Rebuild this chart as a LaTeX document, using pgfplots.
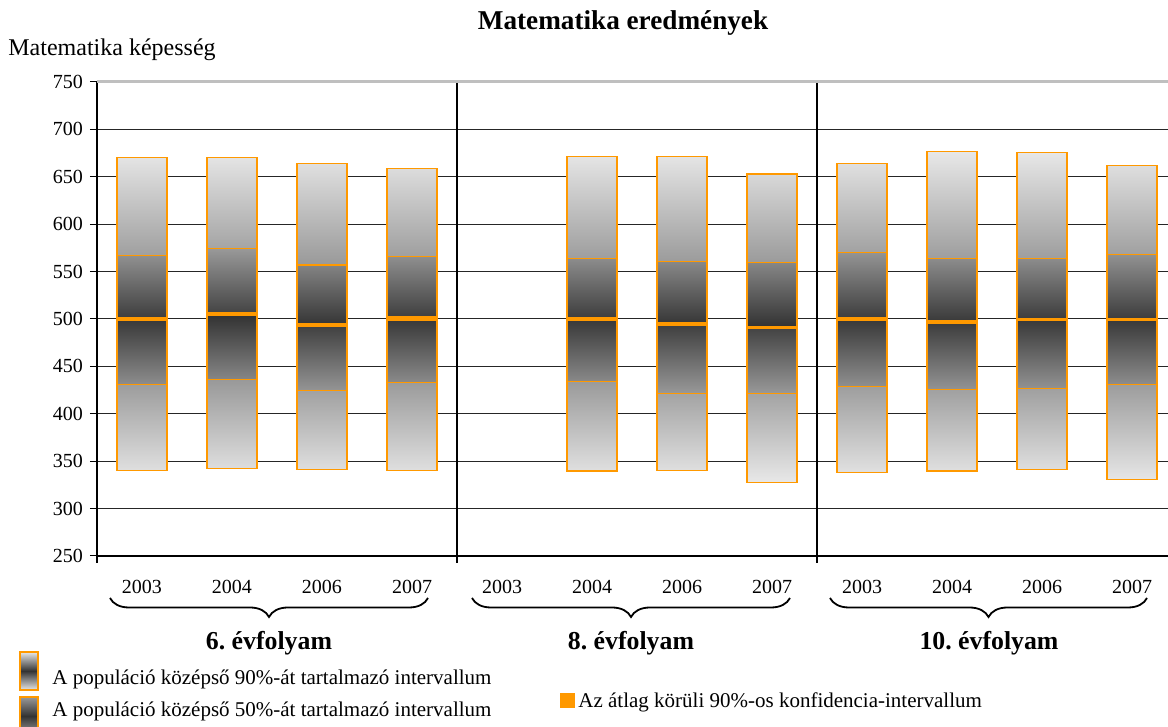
\documentclass[border=0pt]{standalone}
\usepackage{fontspec}
\setmainfont{Liberation Serif}
\usepackage{pgfplots}
\usepackage{pgfplotstable}
\pgfplotsset{compat=1.18}
\usetikzlibrary{decorations.pathreplacing}

\definecolor{boxorange}{HTML}{FF9900}
\definecolor{lightg}{gray}{0.91}
\definecolor{midg}{gray}{0.6}
\definecolor{outmid}{gray}{0.68}
\definecolor{inmid}{gray}{0.48}
\definecolor{darkg}{gray}{0.2}

% percentiles: 5th, 25th, CI low, CI high, 75th, 95th
\pgfplotstableread{
x   p5     lq     cl     ch     uq     p95
0   340    430.5  498.8  501.5  567    670.5
1   342    435.8  503.8  506.5  574.4  670.5
2   341    424.6  492.2  495.5  557    664
3   340    433    498.3  502    566    659
5   339.6  434.4  498.8  501.3  563.5  671
6   340    421    493.5  496    561    671
7   327.7  421    490    492.5  560    653
8   338    428.4  498.8  501.2  570    664
9   339.6  425.6  495.7  498    563.5  677
10  341    426.7  498.3  500.5  563.5  676
11  330.5  430.5  498.5  500.7  568.4  662
}\boxdata

\begin{document}
\frenchspacing
\begin{tikzpicture}
\begin{axis}[
    name=main, at={(0,0)}, anchor=south west,
    width=535.5pt, height=237pt, scale only axis,
    xmin=-0.5, xmax=11.4, ymin=250, ymax=750,
    ybar stacked, bar width=25pt,
    axis x line*=bottom, axis y line*=left,
    axis line style={black, line width=0.6pt},
    tick align=outside, major tick length=3.5pt,
    ytick={250,300,...,700},
    extra y ticks={750},
    extra y tick style={grid style={black!25, line width=1.5pt}},
    ymajorgrids, grid style={black!85, line width=0.5pt},
    y tick style={black, line width=0.5pt},
    xtick={0,...,11},
    xticklabels={2003,2004,2006,2007,2003,2004,2006,2007,2003,2004,2006,2007},
    x tick style={draw=none},
    xticklabel style={yshift=-5pt},
    extra x ticks={-0.5,3.5,7.5},
    extra x tick labels={},
    extra x tick style={xmajorgrids=true, grid style={black, line width=0.6pt},
        x tick style={draw=black, line width=0.6pt}},
    ticklabel style={font=\rmfamily\fontsize{10}{12}\selectfont},
    /pgf/number format/assume math mode=true,
]
\addplot[draw=none, fill=none] table[x=x, y=p5]{\boxdata};
\addplot[draw=boxorange, line width=0.6pt, bottom color=lightg, middle color=outmid, top color=midg]
    table[x=x, y expr=\thisrow{lq}-\thisrow{p5}]{\boxdata};
\addplot[draw=boxorange, line width=0.6pt, bottom color=midg, middle color=inmid, top color=darkg]
    table[x=x, y expr=\thisrow{cl}-\thisrow{lq}]{\boxdata};
\addplot[draw=boxorange, line width=0.6pt, fill=boxorange]
    table[x=x, y expr=\thisrow{ch}-\thisrow{cl}]{\boxdata};
\addplot[draw=boxorange, line width=0.6pt, bottom color=darkg, middle color=inmid, top color=midg]
    table[x=x, y expr=\thisrow{uq}-\thisrow{ch}]{\boxdata};
\addplot[draw=boxorange, line width=0.6pt, bottom color=midg, middle color=outmid, top color=lightg]
    table[x=x, y expr=\thisrow{p95}-\thisrow{uq}]{\boxdata};
\end{axis}

% group braces and labels
\begin{scope}[line width=0.9pt, decoration={brace, mirror, amplitude=9.5pt}]
\draw[decorate] (6.5pt,-21pt) -- (165.5pt,-21pt);
\draw[decorate] (187.5pt,-21pt) -- (346.5pt,-21pt);
\draw[decorate] (366.5pt,-21pt) -- (525pt,-21pt);
\end{scope}
\node[font=\fontsize{12.9}{15}\selectfont\bfseries] at (86pt,-43.5pt) {6. évfolyam};
\node[font=\fontsize{12.9}{15}\selectfont\bfseries] at (267pt,-43.5pt) {8. évfolyam};
\node[font=\fontsize{12.9}{15}\selectfont\bfseries] at (446pt,-43.5pt) {10. évfolyam};

% title and y label
\node[font=\fontsize{13.6}{16}\selectfont\bfseries] at (263pt,266.5pt) {Matematika eredmények};
\node[font=\fontsize{12}{14}\selectfont, anchor=west, inner sep=0pt] at (-44.5pt,253pt) {Matematika képesség};

% legend
\shade[top color=lightg, bottom color=lightg, middle color=darkg, draw=boxorange, line width=0.6pt]
    (-38.5pt,-48pt) rectangle (-29.5pt,-67pt);
\node[font=\fontsize{10.5}{12}\selectfont, anchor=west, inner sep=0pt] at (-22.5pt,-61.5pt)
    {A populáció középső 90\%-át tartalmazó intervallum};
\shade[top color=midg, bottom color=midg, middle color=darkg, draw=boxorange, line width=0.6pt]
    (-38.5pt,-70.5pt) rectangle (-29.5pt,-89.5pt);
\node[font=\fontsize{10.5}{12}\selectfont, anchor=west, inner sep=0pt] at (-22.5pt,-77.5pt)
    {A populáció középső 50\%-át tartalmazó intervallum};
\fill[boxorange] (231.5pt,-68.5pt) rectangle (239pt,-76pt);
\node[font=\fontsize{10.5}{12}\selectfont, anchor=west, inner sep=0pt] at (240.5pt,-73pt)
    {Az átlag körüli 90\%-os konfidencia-intervallum};

\pgfresetboundingbox
\path (-48.5pt,-85.5pt) rectangle (535.5pt,278pt);
\end{tikzpicture}
\end{document}
